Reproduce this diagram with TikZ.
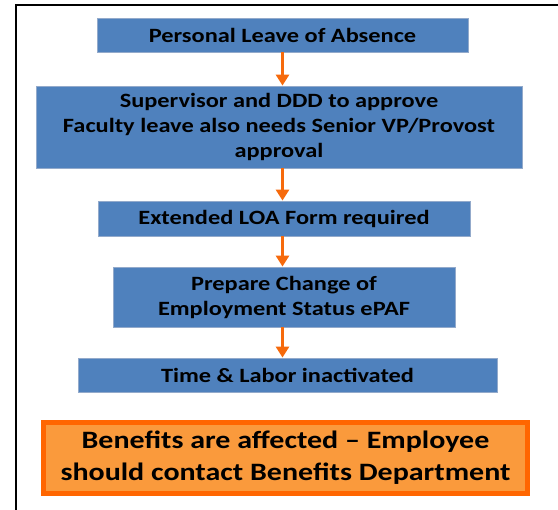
\documentclass[tikz,border=0pt]{standalone}
\usepackage{fontspec}
\setmainfont{Carlito}
\newfontfamily\stepfont{Carlito}[FakeStretch=1.2, Ligatures=TeX]
\usetikzlibrary{arrows.meta}
\definecolor{stepBlue}{HTML}{4F81BD}
\definecolor{stepEdge}{HTML}{93AACB}
\definecolor{arrowOrange}{HTML}{F66A0C}
\definecolor{noteFill}{HTML}{FA9A3C}
\definecolor{noteEdge}{HTML}{FF6600}
\tikzset{
    StepBox/.style={draw=stepEdge, fill=stepBlue, line width=0.8pt, align=center,
        inner sep=0pt, font=\stepfont\fontsize{20.3}{25}\selectfont\bfseries},
    NoteBox/.style={draw=noteEdge, fill=noteFill, line width=5pt, align=center,
        inner sep=0pt, text depth=4pt, font=\stepfont\fontsize{25}{32}\selectfont\bfseries},
    FlowArrow/.style={arrowOrange, line width=3.5pt, -{Triangle[width=13pt, length=11pt]}}
}

\begin{document}
\begin{tikzpicture}[x=1pt, y=-1pt]
    \useasboundingbox (0, 0) rectangle (558, 510);

    % page frame
    \draw[line width=2pt, line cap=rect] (16, 510) -- (16, 5.5) -- (560, 5.5);

    % steps
    \node[StepBox, minimum width=371pt, minimum height=34pt] (leave) at (282.5, 35) {Personal Leave of Absence};
    \node[StepBox, minimum width=486pt, minimum height=82pt] (approve) at (279, 127)
        {Supervisor and DDD to approve\\Faculty leave also needs Senior VP/Provost\\approval};
    \node[StepBox, minimum width=372pt, minimum height=35pt] (form) at (284, 218.5) {Extended LOA Form required};
    \node[StepBox, minimum width=342pt, minimum height=60pt] (epaf) at (284, 297)
        {Prepare Change of\\Employment Status ePAF};
    \node[StepBox, minimum width=419pt, minimum height=34pt] (labor) at (287.5, 375) {Time \& Labor inactivated};

    % note at the bottom
    \node[NoteBox, minimum width=484pt, minimum height=71pt] (benefits) at (285.5, 458)
        {Benefits are affected \textendash{} Employee\\should contact Benefits Department};

    % arrows
    \draw[FlowArrow] (leave.south) -- (leave.south |- approve.north);
    \draw[FlowArrow] (approve.south -| leave.south) -- (leave.south |- form.north);
    \draw[FlowArrow] (form.south -| leave.south) -- (leave.south |- epaf.north);
    \draw[FlowArrow] (epaf.south -| leave.south) -- (leave.south |- labor.north);
\end{tikzpicture}
\end{document}
